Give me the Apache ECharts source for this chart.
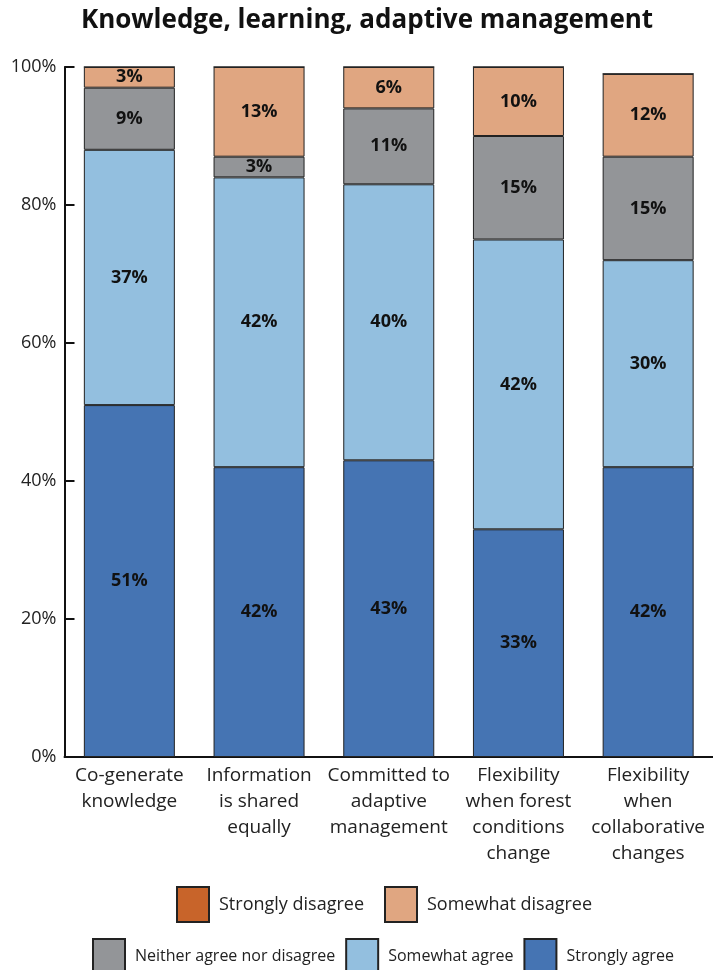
<!DOCTYPE html>
<html>
<head>
<meta charset="utf-8">
<script src="https://cdn.jsdelivr.net/npm/echarts@6/dist/echarts.min.js"></script>
<style>
  html, body { margin: 0; padding: 0; background: #fff; }
  #chart { width: 713px; height: 970px; }
</style>
</head>
<body>
<div id="chart"></div>
<script>
// Survey responses (percent of respondents) per statement
const categories = [
  'Co-generate\nknowledge',
  'Information\nis shared\nequally',
  'Committed to\nadaptive\nmanagement',
  'Flexibility\nwhen forest\nconditions\nchange',
  'Flexibility\nwhen\ncollaborative\nchanges'
];
const stronglyAgree     = [51, 42, 43, 33, 42];
const somewhatAgree     = [37, 42, 40, 42, 30];
const neitherAgree      = [9, 3, 11, 15, 15];
const somewhatDisagree  = [3, 13, 6, 10, 12];
const stronglyDisagree  = [0, 0, 0, 0, 0];
const yTicks = [0, 20, 40, 60, 80, 100];

const FONT = '"Open Sans", "Noto Sans", sans-serif';

const seriesDefs = [
  { name: 'Strongly agree', data: stronglyAgree, color: '#4574b3' },
  { name: 'Somewhat agree', data: somewhatAgree, color: '#93bfdf' },
  { name: 'Neither agree nor disagree', data: neitherAgree, color: '#939598' },
  { name: 'Somewhat disagree', data: somewhatDisagree, color: '#e0a681' },
  { name: 'Strongly disagree', data: stronglyDisagree, color: '#c8642a' }
];

const chart = echarts.init(document.getElementById('chart'), null, { renderer: 'canvas' });

chart.setOption({
  animation: false,
  backgroundColor: '#ffffff',
  title: {
    text: 'Knowledge, learning, adaptive management',
    left: 362,
    top: 3,
    textAlign: 'center',
    textStyle: { fontFamily: FONT, fontWeight: 'bold', fontSize: 26, color: '#111' }
  },
  legend: [
    {
      data: ['Strongly disagree', 'Somewhat disagree'],
      left: 171, top: 881,
      icon: 'rect',
      itemWidth: 32, itemHeight: 35, itemGap: 20,
      textStyle: { fontFamily: FONT, fontSize: 18, color: '#222', padding: [0, 0, 0, 5] }
    },
    {
      data: ['Neither agree nor disagree', 'Somewhat agree', 'Strongly agree'],
      left: 87, top: 933,
      icon: 'rect',
      itemWidth: 32, itemHeight: 35, itemGap: 10,
      textStyle: { fontFamily: FONT, fontSize: 16, color: '#222', padding: [0, 0, 0, 5] }
    }
  ],
  grid: { left: 64.5, top: 67, width: 650, height: 690, containLabel: false },
  xAxis: {
    type: 'category',
    data: categories,
    axisLine: { lineStyle: { color: '#111', width: 2 } },
    axisTick: { inside: true, length: 16, lineStyle: { color: '#111', width: 2 } },
    axisLabel: {
      interval: 0, margin: 6,
      fontFamily: FONT, fontSize: 19, lineHeight: 26, color: '#222'
    }
  },
  yAxis: {
    type: 'value',
    min: yTicks[0], max: yTicks[yTicks.length - 1], interval: 20,
    splitLine: { show: false },
    axisLine: { show: true, lineStyle: { color: '#111', width: 2 } },
    axisTick: { show: true, inside: true, length: 10, lineStyle: { color: '#111', width: 2 } },
    axisLabel: {
      margin: 8, fontFamily: FONT, fontSize: 18, color: '#222',
      formatter: v => v + '%'
    }
  },
  series: seriesDefs.map(s => ({
    name: s.name,
    type: 'bar',
    stack: 'total',
    barWidth: 91,
    data: s.data,
    itemStyle: { color: s.color, borderColor: '#222', borderWidth: 1 },
    label: {
      show: true,
      position: 'inside',
      fontFamily: FONT, fontWeight: 'bold', fontSize: 18, color: '#111',
      formatter: p => (p.value > 0 ? p.value + '%' : '')
    }
  }))
});
</script>
</body>
</html>
